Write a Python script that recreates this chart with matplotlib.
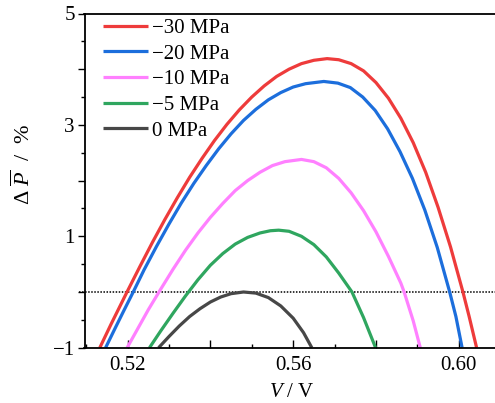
import matplotlib
matplotlib.use("Agg")
import matplotlib.pyplot as plt
from matplotlib.ticker import FixedLocator, FixedFormatter, MultipleLocator

plt.rcParams['font.family'] = ['Liberation Serif', 'DejaVu Serif']
plt.rcParams['mathtext.fontset'] = 'custom'
plt.rcParams['mathtext.rm'] = 'Liberation Serif'
plt.rcParams['mathtext.it'] = 'Liberation Serif:italic'

# ---- data ----
labels = ['\u221230 MPa', '\u221220 MPa', '\u221210 MPa', '\u22125 MPa', '0 MPa']
colors = ['#EE3B3B', '#1C6EDC', '#FF80FF', '#2FA65F', '#474747']

v_m30 = [0.5133, 0.5160, 0.5180, 0.5200, 0.5230, 0.5260, 0.5290, 0.5320, 0.5350, 0.5380,
         0.5410, 0.5440, 0.5470, 0.5500, 0.5530, 0.5560, 0.5590, 0.5620, 0.5650, 0.5682,
         0.5710, 0.5740, 0.5770, 0.5800, 0.5830, 0.5860, 0.5890, 0.5920, 0.5950, 0.5980,
         0.6010, 0.6025, 0.6043]
p_m30 = [-1.00, -0.58, -0.28, 0.02, 0.46, 0.89, 1.30, 1.69, 2.06, 2.40,
         2.72, 3.01, 3.27, 3.50, 3.70, 3.87, 4.00, 4.10, 4.16, 4.19,
         4.17, 4.10, 3.97, 3.76, 3.48, 3.12, 2.68, 2.15, 1.52, 0.81,
         0.00, -0.44, -1.00]

v_m20 = [0.5147, 0.5170, 0.5190, 0.5215, 0.5240, 0.5270, 0.5300, 0.5330, 0.5360, 0.5390,
         0.5420, 0.5450, 0.5480, 0.5510, 0.5540, 0.5570, 0.5600, 0.5630, 0.5674, 0.5708,
         0.5738, 0.5768, 0.5798, 0.5828, 0.5858, 0.5888, 0.5918, 0.5948, 0.5978, 0.5993,
         0.6008]
p_m20 = [-1.00, -0.65, -0.35, 0.02, 0.40, 0.82, 1.22, 1.60, 1.95, 2.27,
         2.57, 2.84, 3.08, 3.28, 3.45, 3.58, 3.68, 3.74, 3.78, 3.75,
         3.67, 3.50, 3.26, 2.93, 2.52, 2.04, 1.47, 0.80, 0.00, -0.44,
         -1.00]

v_m10 = [0.5199, 0.5220, 0.5250, 0.5280, 0.5310, 0.5340, 0.5370, 0.5400, 0.5430, 0.5460,
         0.5490, 0.5520, 0.5550, 0.5580, 0.5620, 0.5650, 0.5680, 0.5710, 0.5740, 0.5770,
         0.5800, 0.5830, 0.5860, 0.5868, 0.5890, 0.5907]
p_m10 = [-1.00, -0.72, -0.32, 0.05, 0.41, 0.75, 1.06, 1.34, 1.59, 1.82,
         2.00, 2.15, 2.27, 2.34, 2.38, 2.34, 2.23, 2.04, 1.78, 1.46,
         1.08, 0.64, 0.16, 0.00, -0.52, -1.00]

v_m5 = [0.5253, 0.5280, 0.5310, 0.5340, 0.5370, 0.5400, 0.5430, 0.5460, 0.5490, 0.5520,
        0.5545, 0.5565, 0.5590, 0.5620, 0.5650, 0.5680, 0.5710, 0.5742, 0.5770, 0.5799]
p_m5 = [-1.00, -0.70, -0.38, -0.07, 0.22, 0.48, 0.69, 0.86, 0.98, 1.06,
        1.10, 1.11, 1.09, 1.00, 0.85, 0.63, 0.34, 0.00, -0.46, -1.00]

v_0 = [0.5275, 0.5300, 0.5325, 0.5350, 0.5375, 0.5400, 0.5425, 0.5450, 0.5480, 0.5510,
       0.5540, 0.5570, 0.5600, 0.5625, 0.5645]
p_0 = [-1.00, -0.80, -0.61, -0.44, -0.30, -0.18, -0.09, -0.03, 0.00, -0.02,
       -0.10, -0.25, -0.47, -0.73, -1.00]

series_v = [v_m30, v_m20, v_m10, v_m5, v_0]
series_p = [p_m30, p_m20, p_m10, p_m5, p_0]

x_major = [0.52, 0.54, 0.56, 0.58, 0.60]
x_major_labels = ['0.52', '', '0.56', '', '0.60']
y_major = [-1, 0, 1, 2, 3, 4, 5]
y_major_labels = ['\u22121', '', '1', '', '3', '', '5']

# ---- figure ----
fig = plt.figure(figsize=(4.95, 4.03), dpi=100)
ax = fig.add_axes([84.5 / 495, 55.3 / 403, 415.7 / 495, 334.2 / 403])

for v, p, c, lab in zip(series_v, series_p, colors, labels):
    ax.plot(v, p, color=c, lw=2.3, label=lab, solid_capstyle='butt',
            solid_joinstyle='round')

ax.axhline(0, xmin=-0.014, xmax=1, color='black', lw=1.1,
           linestyle=(0, (1, 1)), clip_on=False, zorder=1)

ax.set_xlim(0.5096, 0.6100)
ax.set_ylim(-1, 5)

ax.xaxis.set_major_locator(FixedLocator(x_major))
ax.xaxis.set_major_formatter(FixedFormatter(x_major_labels))
ax.xaxis.set_minor_locator(MultipleLocator(0.01))
ax.yaxis.set_major_locator(FixedLocator(y_major))
ax.yaxis.set_major_formatter(FixedFormatter(y_major_labels))
ax.yaxis.set_minor_locator(MultipleLocator(0.5))

ax.tick_params(axis='x', which='major', direction='in', length=5.5, width=1.0,
               labelsize=15, pad=6)
ax.tick_params(axis='x', which='minor', direction='in', length=3, width=1.0)
ax.tick_params(axis='y', which='major', direction='out', length=5, width=1.0,
               labelsize=15, pad=2)
ax.tick_params(axis='y', which='minor', direction='out', length=3, width=1.0)

for s in ['left', 'bottom', 'top', 'right']:
    ax.spines[s].set_linewidth(1.3)

ax.set_xlabel('$V$ / V', fontsize=15)
ax.set_ylabel('\u0394 $\\overline{P}$  /  %', fontsize=16)
ax.xaxis.set_label_coords(0.5, -0.107)
ax.yaxis.set_label_coords(-0.118, 0.55)

leg = ax.legend(loc='upper left', bbox_to_anchor=(0.044, 0.985), frameon=False,
                fontsize=15, handlelength=2.15, handletextpad=0.2,
                labelspacing=0.29, borderpad=0, borderaxespad=0)

fig.savefig('out.png', dpi=100)
